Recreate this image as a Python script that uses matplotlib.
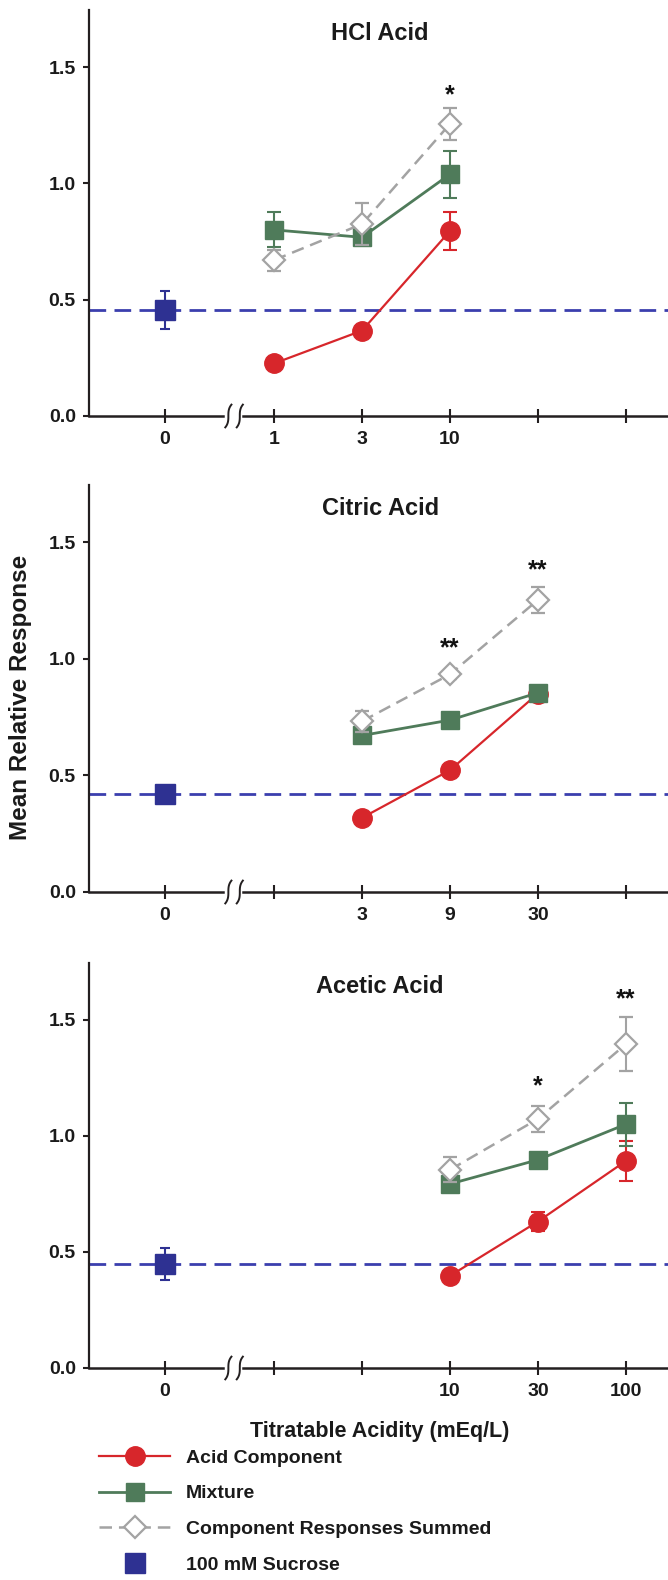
import numpy as np
import matplotlib
matplotlib.use("Agg")
import matplotlib.pyplot as plt
import matplotlib.transforms as mtransforms

plt.rcParams['font.family'] = ['Liberation Sans', 'DejaVu Sans']
plt.rcParams['font.weight'] = 'bold'
plt.rcParams['lines.scale_dashes'] = False

# ---------------- data ----------------
tick_pos = [0, 1.24, 2.24, 3.24, 4.24, 5.24]
titles = ["HCl Acid", "Citric Acid", "Acetic Acid"]

hcl_slots = [1, 2, 3]
hcl_labels = ["0", "1", "3", "10", "", ""]
hcl_acid = [0.226, 0.367, 0.795]
hcl_acid_err = [0.02, 0.02, 0.08]
hcl_mix = [0.800, 0.768, 1.039]
hcl_mix_err = [0.075, 0.03, 0.10]
hcl_sum = [0.670, 0.825, 1.255]
hcl_sum_err = [0.045, 0.09, 0.067]
hcl_suc, hcl_suc_err = 0.456, 0.08
hcl_stars = ["", "", "*"]
hcl_star_y = [0, 0, 1.38]

cit_slots = [2, 3, 4]
cit_labels = ["0", "", "3", "9", "30", ""]
cit_acid = [0.318, 0.522, 0.851]
cit_acid_err = [0.02, 0.02, 0.02]
cit_mix = [0.671, 0.737, 0.854]
cit_mix_err = [0.02, 0.02, 0.02]
cit_sum = [0.732, 0.933, 1.252]
cit_sum_err = [0.045, 0.02, 0.055]
cit_suc, cit_suc_err = 0.422, 0.03
cit_stars = ["", "**", "**"]
cit_star_y = [0, 1.044, 1.38]

ace_slots = [3, 4, 5]
ace_labels = ["0", "", "", "10", "30", "100"]
ace_acid = [0.397, 0.631, 0.892]
ace_acid_err = [0.02, 0.04, 0.086]
ace_mix = [0.793, 0.897, 1.050]
ace_mix_err = [0.02, 0.03, 0.093]
ace_sum = [0.854, 1.073, 1.395]
ace_sum_err = [0.053, 0.057, 0.116]
ace_suc, ace_suc_err = 0.448, 0.07
ace_stars = ["", "*", "**"]
ace_star_y = [0, 1.212, 1.588]

legend_labels = ['Acid Component', 'Mixture', 'Component Responses Summed', '100 mM Sucrose']

panels = [
    (hcl_slots, hcl_labels, hcl_acid, hcl_acid_err, hcl_mix, hcl_mix_err, hcl_sum, hcl_sum_err, hcl_suc, hcl_suc_err, hcl_stars, hcl_star_y),
    (cit_slots, cit_labels, cit_acid, cit_acid_err, cit_mix, cit_mix_err, cit_sum, cit_sum_err, cit_suc, cit_suc_err, cit_stars, cit_star_y),
    (ace_slots, ace_labels, ace_acid, ace_acid_err, ace_mix, ace_mix_err, ace_sum, ace_sum_err, ace_suc, ace_suc_err, ace_stars, ace_star_y),
]

RED = '#d7262b'
GREEN = '#4f7b5a'
GRAY = '#a3a3a3'
BLUE = '#2e3192'
DASH = '#3b3fae'
AX = '#231f20'
TXT = '#1a1a1a'

W, H = 668, 1580
fig = plt.figure(figsize=(W / 100, H / 100), dpi=100)

axes_px = [(10, 416), (485, 892), (963, 1368)]
left_px = 89
xlim = (-0.865, 5.72)

handles = None
for i, (p, (top, bot)) in enumerate(zip(panels, axes_px)):
    slots, labels, acid, acid_e, mix, mix_e, summ, summ_e, suc, suc_e, stars, star_y = p
    ax = fig.add_axes([left_px / W, 1 - bot / H, 1 - left_px / W, (bot - top) / H])
    ax.set_xlim(*xlim)
    ax.set_ylim(0, 1.745)
    xs = [tick_pos[s] for s in slots]

    ax.axhline(suc, color=DASH, lw=2.0, dashes=(12, 6), zorder=1)
    a = ax.errorbar(xs, acid, yerr=acid_e, color=RED, lw=1.6, marker='o', ms=14,
                    capsize=5, capthick=1.5, elinewidth=1.5, zorder=3)
    m = ax.errorbar(xs, mix, yerr=mix_e, color=GREEN, lw=2.0, marker='s', ms=13.5,
                    capsize=5, capthick=1.5, elinewidth=1.5, zorder=4)
    s = ax.errorbar(xs, summ, yerr=summ_e, color=GRAY, lw=1.8, marker='D', ms=11.5,
                    mfc='white', mec=GRAY, mew=1.6, dashes=(9, 5),
                    capsize=5, capthick=1.5, elinewidth=1.5, zorder=5)
    s[2][0].set_linestyle('solid')
    u = ax.errorbar([tick_pos[0]], [suc], yerr=[suc_e], color=BLUE, ls='none', marker='s',
                    ms=14, capsize=3.6, capthick=1.5, elinewidth=1.5, zorder=6)
    for x, st, sy in zip(xs, stars, star_y):
        if st:
            ax.text(x, sy, st, ha='center', va='center', fontsize=18, color='#111111')
    if handles is None:
        handles = [a[0], m[0], s[0], u[0]]

    ax.text(0.503, 0.943, titles[i], transform=ax.transAxes, ha='center', va='center',
            fontsize=17, fontweight='bold', color=TXT)

    for sp in ['top', 'right', 'bottom']:
        ax.spines[sp].set_visible(False)
    ax.spines['left'].set_color(AX)
    ax.spines['left'].set_linewidth(1.6)

    # broken x axis
    span = xlim[1] - xlim[0]
    ax.axhline(0, xmin=0, xmax=(0.66 - xlim[0]) / span, color=AX, lw=1.8, clip_on=False, zorder=2)
    ax.axhline(0, xmin=(0.89 - xlim[0]) / span, xmax=1, color=AX, lw=1.8, clip_on=False, zorder=2)
    trans = mtransforms.blended_transform_factory(ax.transData, ax.transAxes)
    t = np.linspace(0, 1, 60)
    for xc in (0.72, 0.85):
        ax.plot(xc + 0.035 * (2 * t - 1) ** 3, 0.028 * (2 * t - 1),
                transform=trans, color=AX, lw=1.4, clip_on=False, zorder=2)

    ax.set_xticks(tick_pos)
    ax.set_xticklabels(labels)
    ax.tick_params(axis='x', direction='inout', length=9.5, width=1.5, color=AX,
                   labelsize=14, pad=6, labelcolor=TXT)
    ax.set_yticks([0, 0.5, 1.0, 1.5])
    ax.set_yticklabels(['0.0', '0.5', '1.0', '1.5'])
    ax.tick_params(axis='y', direction='out', length=4.5, width=1.5, color=AX,
                   labelsize=14, pad=5, labelcolor=TXT)
    for lab in ax.get_xticklabels() + ax.get_yticklabels():
        lab.set_fontweight('bold')

    if i == 1:
        ax.set_ylabel('Mean Relative Response', fontsize=17.5, fontweight='bold', color=TXT)
        ax.yaxis.set_label_coords((32 - left_px) / (W - left_px), 0.477)
    if i == 2:
        ax.set_xlabel('Titratable Acidity (mEq/L)', fontsize=15.5, fontweight='bold', color=TXT)
        ax.xaxis.set_label_coords((380 - left_px) / (W - left_px), -0.13)

leg = fig.legend(handles, legend_labels,
                 loc='upper left', bbox_to_anchor=(99 / W, 1 - 1449 / H), frameon=False,
                 fontsize=14, handlelength=3.66, handletextpad=0.82, labelspacing=0.93,
                 borderpad=0, borderaxespad=0)
for txt in leg.get_texts():
    txt.set_fontweight('bold')
    txt.set_color(TXT)

fig.savefig('out.png', dpi=100)
